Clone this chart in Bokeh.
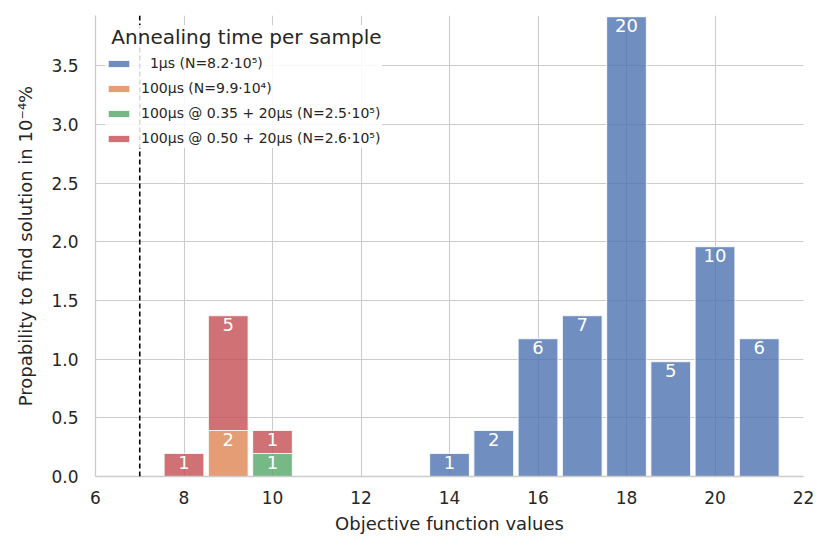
from bokeh.plotting import figure
from bokeh.models import ColumnDataSource, Span, Legend, LegendItem, FixedTicker, Range1d
from bokeh.core.properties import value
from bokeh.embed import file_html
from bokeh.resources import INLINE

# ---- data ----
blue_x = [14, 15, 16, 17, 18, 19, 20, 21]
blue_p = [0.196, 0.392, 1.176, 1.372, 3.92, 0.98, 1.96, 1.176]
blue_n = ["1", "2", "6", "7", "20", "5", "10", "6"]

orange_x = [9]
orange_p = [0.392]
orange_n = ["2"]

green_x = [10]
green_p = [0.196]
green_n = ["1"]

red_x = [8, 9, 10]
red_p = [0.196, 0.98, 0.196]
red_n = ["1", "5", "1"]
red_base = [0.0, 0.392, 0.196]  # stacked on orange / green

labels = [
    "  1\u03bcs (N=8.2\u00b710\u2075)",
    "100\u03bcs (N=9.9\u00b710\u2074)",
    "100\u03bcs @ 0.35 + 20\u03bcs (N=2.5\u00b710\u2075)",
    "100\u03bcs @ 0.50 + 20\u03bcs (N=2.6\u00b710\u2075)",
]
colors = ["#4C72B0", "#DD8452", "#55A868", "#C44E52"]
opt_x = 7
y_ticks = [0.0, 0.5, 1.0, 1.5, 2.0, 2.5, 3.0, 3.5]
x_ticks = [6, 8, 10, 12, 14, 16, 18, 20, 22]

FONT = "DejaVu Sans"
TXT = "#262626"

p = figure(width=815, height=539, output_backend="svg", toolbar_location=None,
           x_range=Range1d(6, 22), y_range=Range1d(0, 3.93),
           min_border_left=95, min_border_right=12, min_border_top=15, min_border_bottom=63)
p.outline_line_color = None
p.background_fill_color = "white"

series = []
for xs, ps, ns, base, c in [
    (blue_x, blue_p, blue_n, [0.0] * len(blue_x), colors[0]),
    (orange_x, orange_p, orange_n, [0.0], colors[1]),
    (green_x, green_p, green_n, [0.0], colors[2]),
    (red_x, red_p, red_n, red_base, colors[3]),
]:
    tops = [b + v for b, v in zip(base, ps)]
    src = ColumnDataSource(dict(x=xs, bottom=base, top=tops, n=ns))
    r = p.vbar(x="x", bottom="bottom", top="top", width=0.9, source=src,
               fill_color=c, fill_alpha=0.8, line_color="white", line_alpha=0.8, line_width=1.2)
    p.text(x="x", y="top", text="n", source=src, text_color="white",
           text_align="center", text_baseline="top", y_offset=2,
           text_font=value(FONT), text_font_size="18px")
    series.append(r)

p.add_layout(Span(location=opt_x, dimension="height", line_color="black",
                  line_width=1.6, line_dash="5 3"))

legend = Legend(items=[LegendItem(label=l, renderers=[r]) for l, r in zip(labels, series)],
                location="top_left")
legend.title = " Annealing time per sample"
legend.title_text_font = FONT
legend.title_text_font_size = "20px"
legend.title_text_font_style = "normal"
legend.title_text_color = TXT
legend.title_standoff = 4
legend.label_text_font = FONT
legend.label_text_font_size = "14px"
legend.label_text_color = TXT
legend.glyph_width = 27
legend.glyph_height = 9
legend.label_standoff = 9
legend.spacing = 5
legend.label_height = 20
legend.padding = 8
legend.margin = 10
legend.background_fill_alpha = 0.85
legend.border_line_color = None
p.add_layout(legend, "center")

for ax in (p.xaxis[0], p.yaxis[0]):
    ax.axis_line_color = "#cccccc"
    ax.axis_line_width = 1.3
    ax.major_tick_line_color = None
    ax.minor_tick_line_color = None
    ax.major_tick_out = 0
    ax.major_tick_in = 0
    ax.minor_tick_out = 0
    ax.major_label_text_font = FONT
    ax.major_label_text_font_size = "17px"
    ax.major_label_text_color = TXT
    ax.axis_label_text_font = FONT
    ax.axis_label_text_font_size = "18px"
    ax.axis_label_text_font_style = "normal"
    ax.axis_label_text_color = TXT

p.xaxis.ticker = FixedTicker(ticks=x_ticks)
p.yaxis.ticker = FixedTicker(ticks=y_ticks)
p.yaxis.major_label_overrides = {t: f"{t:.1f}" for t in y_ticks}
p.xaxis.axis_label = "Objective function values"
p.yaxis.axis_label = "Propability to find solution in 10\u207b\u2074%"
p.xaxis.major_label_standoff = 14
p.xaxis.axis_label_standoff = 6
p.yaxis.major_label_standoff = 17
p.yaxis.axis_label_standoff = 12

p.xgrid.grid_line_color = "#cccccc"
p.ygrid.grid_line_color = "#cccccc"
p.xgrid.grid_line_width = 1.1
p.ygrid.grid_line_width = 1.1

open("out.html", "w").write(file_html(p, INLINE))
